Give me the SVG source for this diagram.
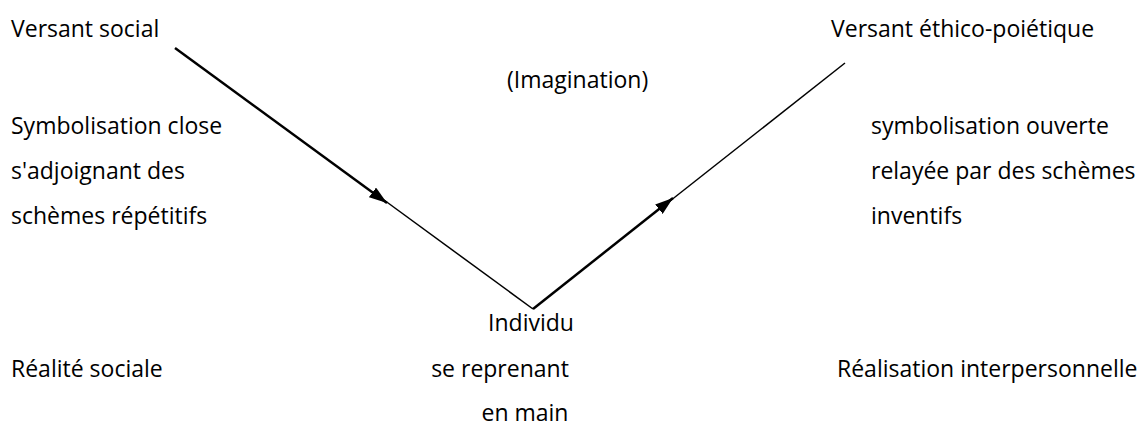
<svg xmlns="http://www.w3.org/2000/svg" width="1142" height="429" viewBox="0 0 1142 429">
<defs>
<style>
text{font-family:"Open Sans","Noto Sans","Liberation Sans",sans-serif;font-size:23px;fill:#000}
.thick{stroke:#000;stroke-width:2.5;fill:none}
.thin{stroke:#000;stroke-width:1.5;fill:none}
</style>
<marker id="arrow" viewBox="0 0 18 12" refX="18" refY="6" markerWidth="18" markerHeight="12" markerUnits="userSpaceOnUse" orient="auto">
<path d="M0,0 L18,6 L0,12 z" fill="#000"/>
</marker>
</defs>
<rect width="1142" height="429" fill="#fff"/>
<g id="connectors">
<line class="thick" x1="175" y1="48" x2="387" y2="203" marker-end="url(#arrow)"/>
<line class="thin" x1="384" y1="200" x2="533" y2="309"/>
<line class="thick" x1="533" y1="309" x2="673" y2="198" marker-end="url(#arrow)"/>
<line class="thin" x1="670" y1="201" x2="845" y2="63"/>
</g>
<g id="versant-social"><text x="11" y="37">Versant social</text></g>
<g id="versant-ethico"><text x="831" y="37">Versant éthico-poiétique</text></g>
<g id="imagination"><text x="507" y="88">(Imagination)</text></g>
<g id="left-column">
<text x="11" y="134">Symbolisation close</text>
<text x="11" y="179">s'adjoignant des</text>
<text x="11" y="224">schèmes répétitifs</text>
</g>
<g id="right-column">
<text x="871" y="134">symbolisation ouverte</text>
<text x="871" y="179">relayée par des schèmes</text>
<text x="871" y="224">inventifs</text>
</g>
<g id="individu">
<text x="531" y="331" text-anchor="middle">Individu</text>
<text x="500" y="377" text-anchor="middle">se reprenant</text>
<text x="525" y="421" text-anchor="middle">en main</text>
</g>
<g id="realite-sociale"><text x="11" y="377">Réalité sociale</text></g>
<g id="realisation"><text x="837" y="377">Réalisation interpersonnelle</text></g>
</svg>
